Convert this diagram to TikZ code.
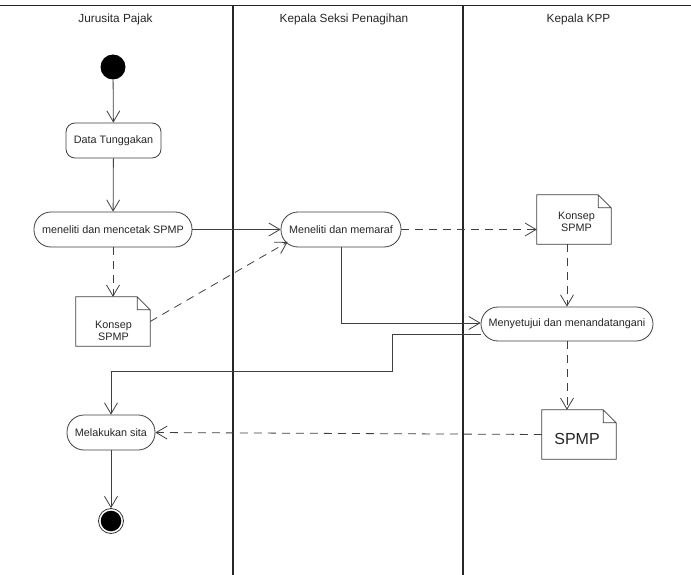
\documentclass[tikz,border=0pt]{standalone}
\usepackage{fontspec}
\setmainfont{Liberation Sans}
\usetikzlibrary{arrows.meta,calc}
\newcommand\DocOutline[1]{\draw[docline] (#1.north west) -- ([xshift=-13pt]#1.north east) -- ([yshift=-13pt]#1.north east) -- (#1.south east) -- (#1.south west) -- cycle ([xshift=-13pt]#1.north east) |- ([yshift=-13pt]#1.north east);}
\begin{document}
\begin{tikzpicture}[x=1pt,y=-1pt,
  lane/.style={line width=1.2pt,draw=black!85},
  hdr/.style={font=\fontsize{11.8}{13}\selectfont,text=black!85},
  act/.style={rectangle,rounded corners=17pt,draw=black!75,line width=0.8pt,minimum height=35pt,inner sep=0pt,font=\fontsize{10.8}{12}\selectfont,text=black!85},
  docbox/.style={rectangle,minimum width=74pt,minimum height=49pt,inner sep=0pt},
  docline/.style={draw=black!75,line width=0.8pt},
  doctext/.style={align=center,font=\fontsize{10.8}{12}\selectfont,text=black!85,inner sep=0pt},
  flow/.style={draw=black!75,line width=0.8pt,-{Straight Barb[length=11pt,width=13pt]}},
  dep/.style={flow,dash pattern=on 8pt off 6pt}
]
\useasboundingbox (0,0) rectangle (691,575);
\fill[white] (0,0) rectangle (691,575);
% swimlanes
\draw[lane] (0,5.5) -- (691,5.5);
\draw[lane] (233,5.5) -- (233,575);
\draw[lane] (463,5.5) -- (463,575);
\node[hdr] (h1) at (115.5,19) {Jurusita Pajak};
\node[hdr] (h2) at (344,19) {Kepala Seksi Penagihan};
\node[hdr] (h3) at (578.5,19) {Kepala KPP};
% nodes
\node[circle,fill=black,minimum size=25pt,inner sep=0pt] (start) at (113,67) {};
\node[act,rounded corners=9pt,minimum width=95pt] (dt) at (113.5,140.5) {Data Tunggakan};
\node[act,minimum width=158pt] (m1) at (113,229.5) {meneliti dan mencetak SPMP};
\node[act,minimum width=120pt] (m2) at (341,229.5) {Meneliti dan memaraf};
\node[act,minimum width=172pt,minimum height=34pt] (m3) at (567,324) {Menyetujui dan menandatangani};
\node[act,minimum width=88pt] (m4) at (111,432.5) {Melakukan sita};
\node[circle,draw=black!80,line width=0.8pt,minimum size=25pt,inner sep=0pt,
  path picture={\fill[black] (path picture bounding box.center) circle (10.3pt);}] (end) at (111,521) {};
% documents
\node[docbox] (k1) at (113,321.5) {};
\node[doctext] (k1t) at (113.5,331) {Konsep\\SPMP};
\DocOutline{k1}
\node[docbox] (k2) at (574,219.5) {};
\node[doctext] (k2t) at (576.5,222) {Konsep\\SPMP};
\DocOutline{k2}
\node[docbox] (sp) at (579,434.5) {};
\node[doctext,font=\fontsize{16}{18}\selectfont] (spt) at (577,439) {SPMP};
\DocOutline{sp}
% connectors
\coordinate (bend) at (392,371);
\draw[flow] (start) -- (dt);
\draw[flow] (dt) -- (m1);
\draw[flow] (m1.east) -- (m2.west);
\draw[dep] (m1.south) -- (k1.north);
\draw[dep] (k1.east) -- ($(m2.west)+(7,12.5)$);
\draw[dep] (m2.east) -- (m2.east -| k2.west);
\draw[dep] (m3.north |- k2.south) -- (m3.north);
\draw[flow] (m2.south) |- ([yshift=1pt]m3.west);
\draw[dep] (m3.south) -- (m3.south |- sp.north);
\draw[flow] ([yshift=-10pt]m3.west) -| (bend) -| (m4.north);
\draw[dep] (sp.west) -- (m4.east);
\draw[flow] (m4.south) -- (end.north);
\end{tikzpicture}
\end{document}
